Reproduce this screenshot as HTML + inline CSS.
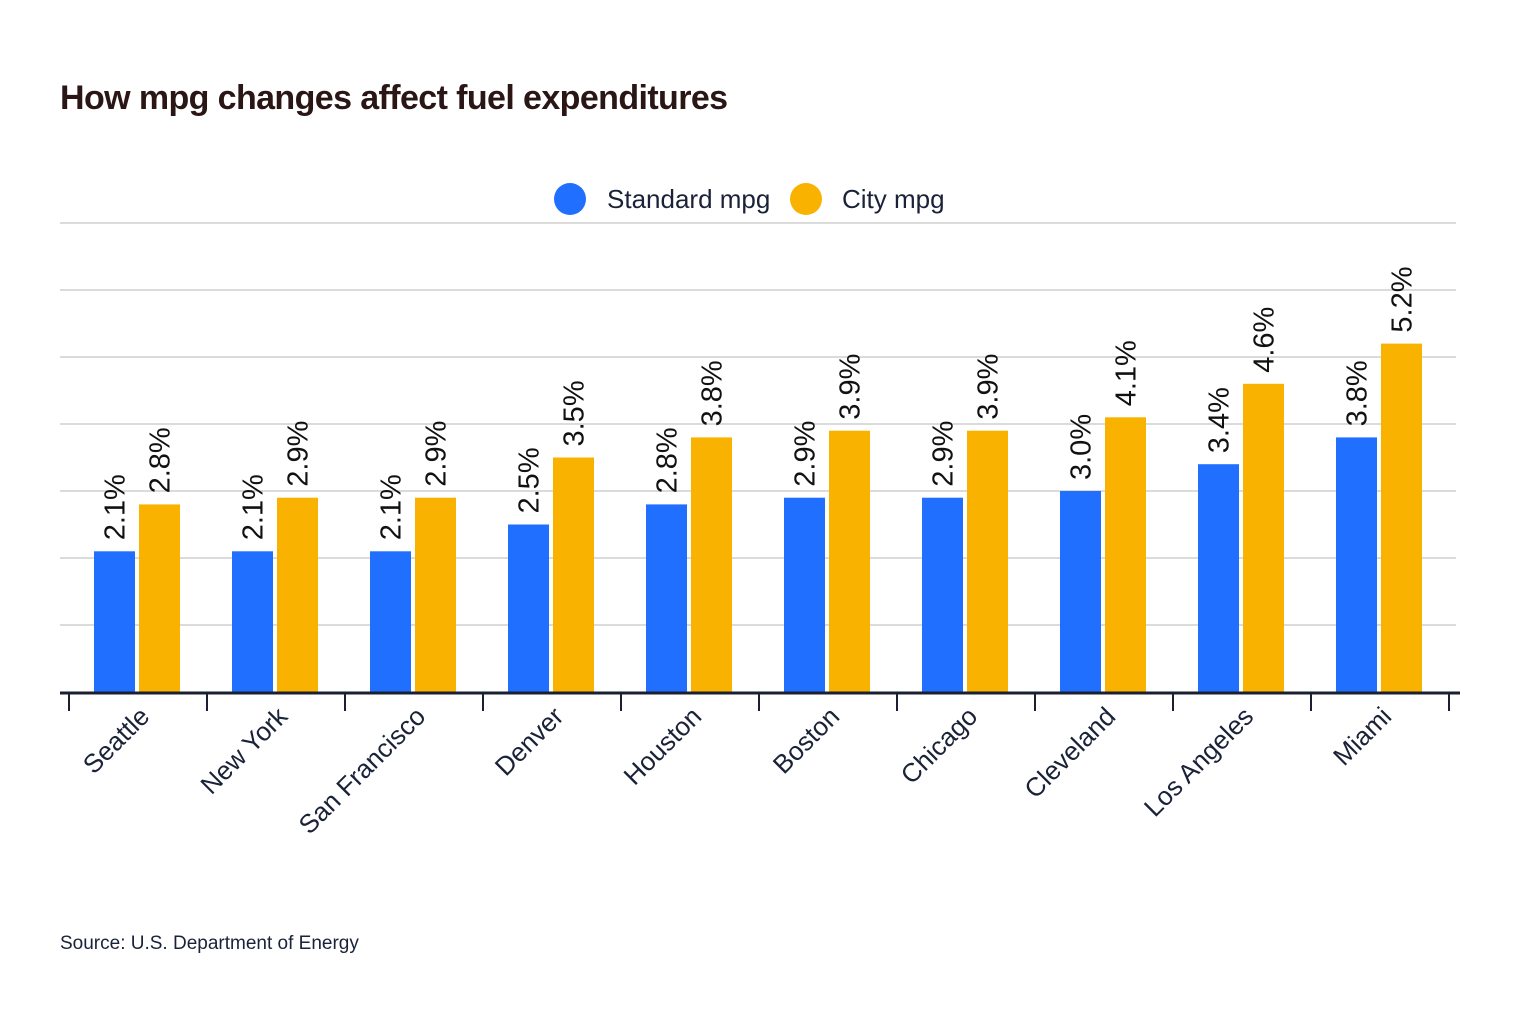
<!DOCTYPE html>
<html><head><meta charset="utf-8"><style>
body{margin:0;background:#fff;width:1520px;height:1022px;overflow:hidden;font-family:"Liberation Sans",sans-serif;}
</style></head><body>
<svg width="1520" height="1022" xmlns="http://www.w3.org/2000/svg">
<text x="60" y="109" font-size="34" font-weight="bold" fill="#2b1616" letter-spacing="-0.6">How mpg changes affect fuel expenditures</text>
<g>
<circle cx="570" cy="199" r="16" fill="#206ffe"/>
<text x="607" y="208" font-size="26" fill="#1a2238">Standard mpg</text>
<circle cx="806" cy="199" r="16" fill="#f9b200"/>
<text x="842" y="208" font-size="26" fill="#1a2238">City mpg</text>
</g>
<g id="grid"></g><g id="bars"></g><g id="axis"></g>
<text x="60" y="949" font-size="19" fill="#1a2238">Source: U.S. Department of Energy</text>
</svg>
<script>
const categories=["Seattle","New York","San Francisco","Denver","Houston","Boston","Chicago","Cleveland","Los Angeles","Miami"];
const standardValues=[2.1,2.1,2.1,2.5,2.8,2.9,2.9,3.0,3.4,3.8];
const cityValues=[2.8,2.9,2.9,3.5,3.8,3.9,3.9,4.1,4.6,5.2];
const gridTicks=[0,1,2,3,4,5,6,7];
const NS="http://www.w3.org/2000/svg";
const y0=692,unit=67,bandStart=69,band=138;
const yS=v=>y0-v*unit;
const xS=i=>bandStart+i*band;
function mk(t,a,p){const e=document.createElementNS(NS,t);for(const k in a)e.setAttribute(k,a[k]);p.appendChild(e);return e;}
const grid=document.getElementById('grid'),bars=document.getElementById('bars'),axis=document.getElementById('axis');
gridTicks.forEach(t=>{if(t===0)return;const l=mk('line',{x1:60,x2:1456,y1:yS(t),y2:yS(t),stroke:'#cfcfcf','stroke-width':1.5},grid);

});
function bar(i,v,off,color,name){
 const x=xS(i)+off,w=41;
 const r=mk('rect',{x:x,y:yS(v),width:w,height:y0-yS(v),fill:color},bars);
 
 
 const tx=x+w/2+10,ty=yS(v)-11;
 const t=mk('text',{x:tx,y:ty,'font-size':29,fill:'#111',transform:`rotate(-90 ${tx} ${ty})`},bars);
 t.textContent=v.toFixed(1)+'%';
 
 
}
categories.forEach((c,i)=>{
 bar(i,standardValues[i],25,'#206ffe','bar-standard');
 bar(i,cityValues[i],70,'#f9b200','bar-city');
});
const ax=mk('line',{x1:60,x2:1460,y1:y0+1,y2:y0+1,stroke:'#1a2030','stroke-width':3},axis);


for(let i=0;i<=categories.length;i++){const tk=mk('line',{x1:xS(i),x2:xS(i),y1:y0,y2:711,stroke:'#1a2030','stroke-width':2},axis);

}
categories.forEach((c,i)=>{
 const x=xS(i)+band/2+13,y=718;
 const t=mk('text',{x:x,y:y,'font-size':26,fill:'#1a2238','text-anchor':'end',transform:`rotate(-45 ${x} ${y})`},axis);
 t.textContent=c;
 
 
});
</script>
</body></html>
